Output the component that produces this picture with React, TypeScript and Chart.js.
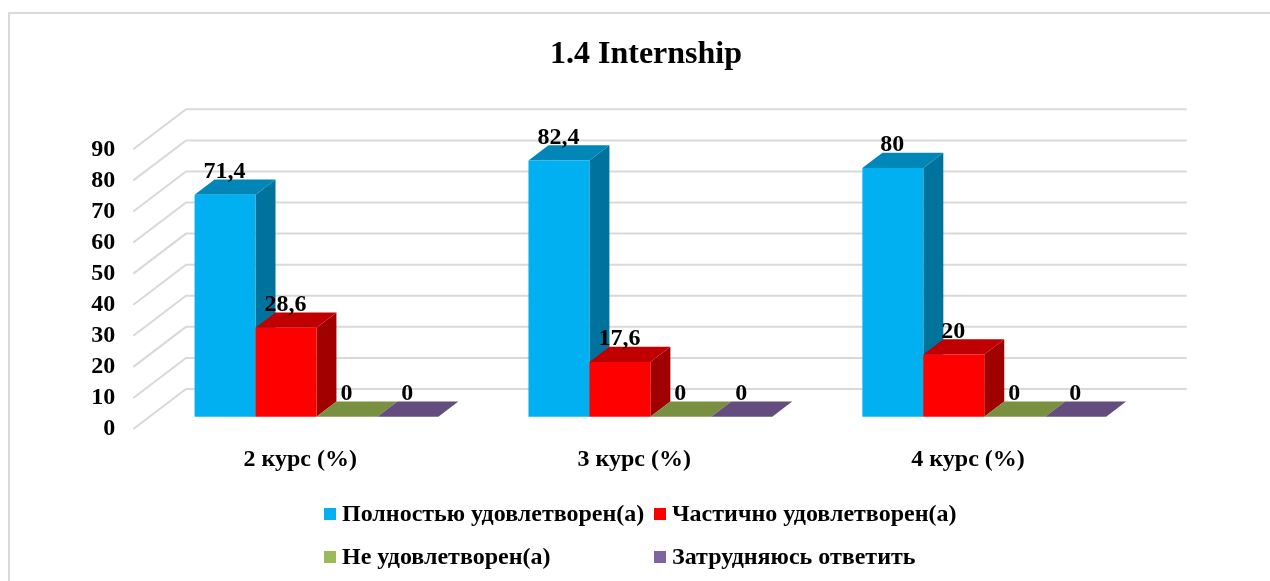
import React, { useEffect, useRef } from "react";
import { Chart, registerables } from "chart.js";

Chart.register(...registerables);

const categories = ["2 курс (%)", "3 курс (%)", "4 курс (%)"];
const seriesNames = ["Полностью удовлетворен(а)", "Частично удовлетворен(а)", "Не удовлетворен(а)", "Затрудняюсь ответить"];
const fullySatisfied = [71.4, 82.4, 80];
const partlySatisfied = [28.6, 17.6, 20];
const notSatisfied = [0, 0, 0];
const hardToSay = [0, 0, 0];

const frontColors = ["#00B0F0", "#FF0000", "#9BBB59", "#8064A2"];
const sideColors = ["#00739D", "#A00000", "#657A3A", "#53416A"];
const topColors = ["#0087B8", "#C00000", "#789040", "#644C7E"];
const FONT = '"Liberation Serif", "Times New Roman", serif';

const W = 1270, H = 581;
const AREA = { left: 133.3, right: 1135, top: 149.3, bottom: 429 };
const WALL = { dx: 52.7, dy: -40 };
const PLANE = { dx: 16.2, dy: -12.3 };
const BAR3D = { dx: 20, dy: -15.3 };
const GRID = "#D9D9D9";

const poly = (ctx: CanvasRenderingContext2D, pts: number[][], fill: string) => {
  ctx.fillStyle = fill;
  ctx.beginPath();
  pts.forEach((p, i) => (i ? ctx.lineTo(p[0], p[1]) : ctx.moveTo(p[0], p[1])));
  ctx.closePath();
  ctx.fill();
};

const scene = {
  id: "scene3d",
  afterLayout(chart: any) {
    const t = chart.titleBlock;
    if (t) { t.left = 22; t.right = W; t.top = 36; t.bottom = 74; }
  },
  beforeDraw(chart: any) {
    const { ctx } = chart;
    ctx.save();
    ctx.fillStyle = "#fff";
    ctx.fillRect(0, 0, W, H);
    ctx.strokeStyle = GRID;
    ctx.lineWidth = 2;
    ctx.beginPath();
    ctx.moveTo(9, H);
    ctx.lineTo(9, 13);
    ctx.lineTo(W, 13);
    ctx.stroke();
    const y = chart.scales.y;
    const { left, right } = chart.chartArea;
    y.ticks.forEach((tk: any) => {
      const py = y.getPixelForValue(tk.value);
      ctx.beginPath();
      ctx.moveTo(left, py);
      ctx.lineTo(left + WALL.dx, py + WALL.dy);
      ctx.lineTo(right + WALL.dx - 1, py + WALL.dy);
      ctx.stroke();
    });
    ctx.restore();
  },
  beforeDatasetsDraw(chart: any) {
    const { ctx } = chart;
    ctx.save();
    ctx.translate(PLANE.dx, PLANE.dy);
    chart.data.datasets.forEach((_: any, i: number) => {
      const meta = chart.getDatasetMeta(i);
      meta.data.forEach((b: any) => {
        const l = b.x - b.width / 2, r = b.x + b.width / 2;
        poly(ctx, [[r, b.y], [r + BAR3D.dx, b.y + BAR3D.dy], [r + BAR3D.dx, b.base + BAR3D.dy], [r, b.base]], sideColors[i]);
        poly(ctx, [[l, b.y], [l + BAR3D.dx, b.y + BAR3D.dy], [r + BAR3D.dx, b.y + BAR3D.dy], [r, b.y]], topColors[i]);
      });
      meta.controller.draw();
    });
    ctx.fillStyle = "#000";
    ctx.font = `bold 24px ${FONT}`;
    ctx.textAlign = "center";
    ctx.textBaseline = "alphabetic";
    chart.data.datasets.forEach((ds: any, i: number) => {
      chart.getDatasetMeta(i).data.forEach((b: any, j: number) => {
        ctx.fillText(String(ds.data[j]).replace(".", ","), b.x - 0.5, b.y - 17);
      });
    });
    ctx.restore();
    return false;
  },
  afterDraw(chart: any) {
    const { ctx } = chart;
    const xs = [324, 654, 324, 654];
    const ys = [515, 515, 558, 558];
    ctx.save();
    ctx.font = `bold 24px ${FONT}`;
    ctx.textBaseline = "middle";
    ctx.textAlign = "left";
    chart.data.datasets.forEach((ds: any, i: number) => {
      ctx.fillStyle = ds.backgroundColor;
      ctx.fillRect(xs[i], ys[i] - 7, 12, 12);
      ctx.fillStyle = "#000";
      ctx.fillText(ds.label, xs[i] + 18, ys[i]);
    });
    ctx.restore();
  },
};

export default function App() {
  const ref = useRef<HTMLCanvasElement>(null);
  useEffect(() => {
    const data = [fullySatisfied, partlySatisfied, notSatisfied, hardToSay];
    const chart = new Chart(ref.current!, {
      type: "bar",
      data: {
        labels: categories,
        datasets: seriesNames.map((label, i) => ({
          label,
          data: data[i],
          backgroundColor: frontColors[i],
          barPercentage: 1,
          categoryPercentage: 0.73,
        })),
      },
      options: {
        animation: false,
        responsive: false,
        devicePixelRatio: 1,
        layout: { padding: { top: AREA.top - 38.4, right: W - AREA.right, left: 0, bottom: 0 } },
        plugins: {
          legend: { display: false },
          tooltip: { enabled: false },
          title: {
            display: true,
            text: "1.4 Internship",
            color: "#000",
            font: { family: FONT, size: 32, weight: "bold", lineHeight: 1.2 },
            padding: 0,
          },
        },
        scales: {
          x: {
            afterFit: (s: any) => { s.height = H - AREA.bottom; },
            grid: { display: false },
            border: { display: false },
            ticks: { color: "#000", padding: 8, maxRotation: 0, font: { family: FONT, size: 24, weight: "bold" } },
          },
          y: {
            min: 0,
            max: 90,
            afterFit: (s: any) => { s.width = AREA.left; },
            grid: { display: false },
            border: { display: false },
            ticks: { stepSize: 10, autoSkip: false, color: "#000", padding: 10, labelOffset: 0, font: { family: FONT, size: 24, weight: "bold" } },
          },
        },
      },
      plugins: [scene],
    } as any);
    return () => chart.destroy();
  }, []);
  return (
    <div style={{ position: "absolute", left: 0, top: 0, width: W, height: H }}>
      <canvas ref={ref} width={W} height={H} style={{ display: "block" }} />
    </div>
  );
}
